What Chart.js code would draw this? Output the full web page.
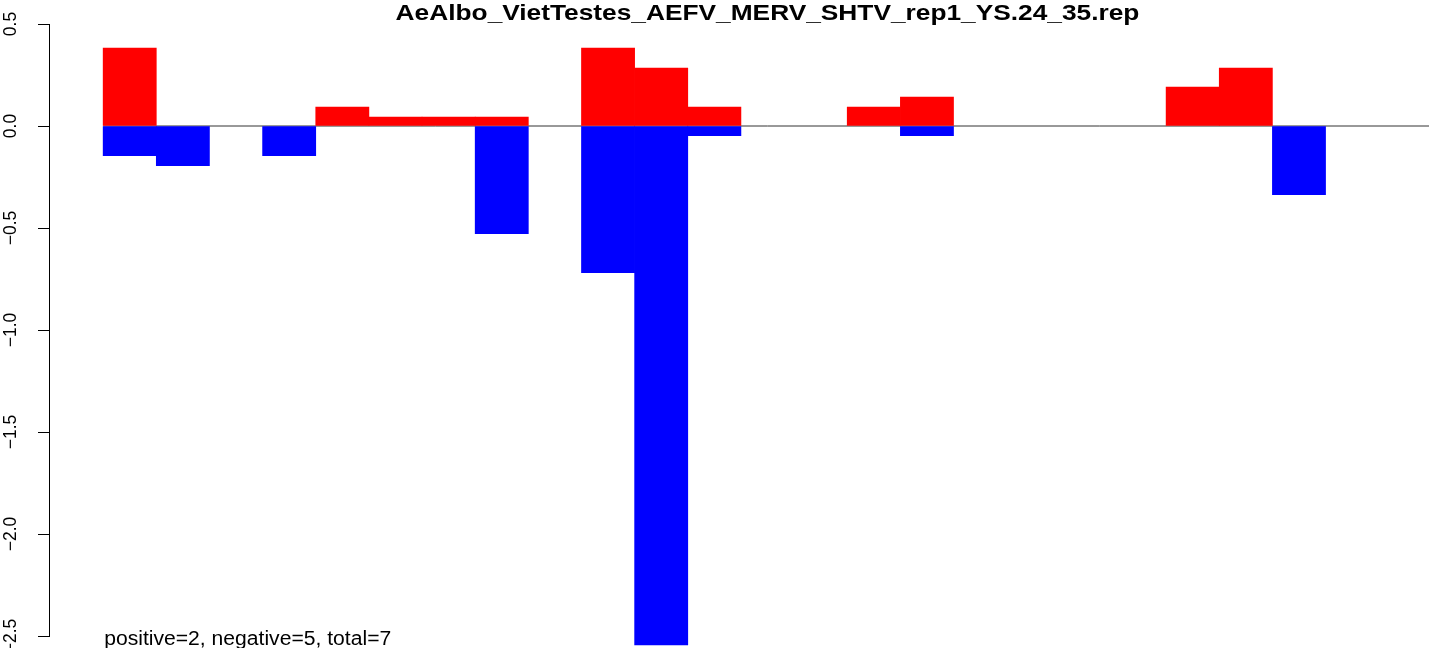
<!DOCTYPE html>
<html><head><meta charset="utf-8">
<script src="https://cdn.jsdelivr.net/npm/chart.js@4.4.1/dist/chart.umd.min.js"></script>
<style>
html,body{margin:0;padding:0;overflow:hidden;background:#fff}
#wrap{width:1429px;height:648px;overflow:hidden;position:relative;background:#fff}
canvas{display:block}
</style></head><body>
<div id="wrap"><canvas id="c" width="1540" height="680"></canvas></div>
<script>
// ---- data ----
const titleText = "AeAlbo_VietTestes_AEFV_MERV_SHTV_rep1_YS.24_35.rep";
const footText = "positive=2, negative=5, total=7";
const positions = [0.5,1.5,2.5,3.5,4.5,5.5,6.5,7.5,8.5,9.5,10.5,11.5,12.5,13.5,14.5,15.5,16.5,17.5,18.5,19.5,20.5,21.5,22.5,23.5,24.5];
const upValues   = [0.382,0,0,0,0.093,0.044,0.044,0.044,0,0.382,0.284,0.093,0,0,0.093,0.142,0,0,0,0,0.191,0.284,0,0,0];
const downValues = [-0.146,-0.194,0,-0.146,0,0,0,-0.528,0,-0.719,-2.544,-0.047,0,0,0,-0.047,0,0,0,0,0,0,-0.337,0,0];
const yTicks = [0.5,0,-0.5,-1,-1.5,-2,-2.5];
const baseLineX = [0, 25];

const fmt = v => (v < 0 ? '\u2212' : '') + Math.abs(v).toFixed(1);
// zero-height bars are not drawn at all
const toPoints = vals => positions.map((x, i) => ({ x, y: vals[i] === 0 ? null : vals[i] }));

const extras = {
  id: 'extras',
  afterDraw(chart) {
    const ctx = chart.ctx, ys = chart.scales.y, xs = chart.scales.x, ca = chart.chartArea;
    // y axis line between extreme ticks
    ctx.save();
    ctx.strokeStyle = '#000'; ctx.lineWidth = 1;
    const ax = Math.round(ys.right) - 0.5;
    ctx.beginPath();
    ctx.moveTo(ax, ys.getPixelForValue(yTicks[0]));
    ctx.lineTo(ax, ys.getPixelForValue(yTicks[yTicks.length-1]));
    ctx.stroke();
    // title
    ctx.fillStyle = '#000';
    ctx.font = 'bold 22px "Liberation Sans", Arial, Helvetica, sans-serif';
    ctx.textAlign = 'center'; ctx.textBaseline = 'alphabetic';
    ctx.translate((ca.left + ca.right) / 2, 19.5);
    ctx.scale(1.195, 1);
    ctx.fillText(titleText, 0, 0);
    ctx.restore();
    // footnote
    ctx.save();
    ctx.fillStyle = '#000';
    ctx.font = '19.5px "Liberation Sans", Arial, Helvetica, sans-serif';
    ctx.textAlign = 'left'; ctx.textBaseline = 'alphabetic';
    ctx.translate(xs.getPixelForValue(0) + 1, 645);
    ctx.scale(1.083, 1);
    ctx.fillText(footText, 0, 0);
    ctx.restore();
  }
};

new Chart(document.getElementById('c'), {
  type: 'bar',
  data: {
    datasets: [
      { type: 'line', data: baseLineX.map(x => ({x, y: 0})), borderColor: '#333', borderWidth: 1,
        pointRadius: 0, order: 10 },
      { data: toPoints(upValues), backgroundColor: '#ff0000',
        borderWidth: 0, grouped: false, barPercentage: 1, categoryPercentage: 1, order: 1 },
      { data: toPoints(downValues), backgroundColor: '#0000ff',
        borderWidth: 0, grouped: false, barPercentage: 1, categoryPercentage: 1, order: 1 }
    ]
  },
  options: {
    responsive: false, animation: false, devicePixelRatio: 1,
    layout: { padding: { left: 0, right: 55, top: 24, bottom: 3.2 } },
    plugins: { legend: { display: false }, tooltip: { enabled: false }, title: { display: false } },
    scales: {
      x: { type: 'linear', min: -1, max: 26, offset: false, display: false,
           afterBuildTicks: s => { s.ticks = positions.map(v => ({ value: v })); } },
      y: { type: 'linear', min: -2.7, max: 0.5, position: 'left',
           afterBuildTicks: s => { s.ticks = yTicks.map(v => ({ value: v })); },
           afterFit: s => { s.width = 50; s.paddingTop = 0; s.paddingBottom = 0; s.paddingLeft = 0; s.paddingRight = 0; },
           border: { display: false },
           grid: { drawOnChartArea: false, drawTicks: true, tickLength: 12, color: '#000', lineWidth: 1 },
           ticks: { callback: v => fmt(v), minRotation: 90, maxRotation: 90, crossAlign: 'center',
                    padding: 10, color: '#000',
                    font: { family: '"Liberation Sans", Arial, Helvetica, sans-serif', size: 17.5 } } }
    }
  },
  plugins: [extras]
});
</script>
</body></html>
